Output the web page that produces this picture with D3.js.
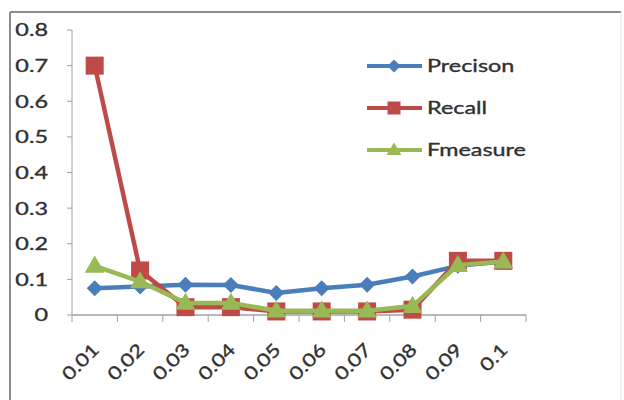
<!DOCTYPE html>
<html>
<head>
<meta charset="utf-8">
<script src="https://cdn.jsdelivr.net/npm/d3@7"></script>
<style>
  html, body { margin: 0; padding: 0; background: #fff; }
  svg { display: block; }
  text { font-family: Lato, "Open Sans", sans-serif; fill: #303030; stroke: #303030; stroke-width: 0.35; }
</style>
</head>
<body>
<svg id="chart" width="624" height="400"></svg>
<script>
// Threshold values on the x axis
const categories = ["0.01", "0.02", "0.03", "0.04", "0.05", "0.06", "0.07", "0.08", "0.09", "0.1"];
// Series values
const precision = [0.075, 0.080, 0.085, 0.084, 0.062, 0.075, 0.085, 0.108, 0.138, 0.150];
const recall    = [0.700, 0.125, 0.022, 0.022, 0.010, 0.010, 0.010, 0.015, 0.152, 0.152];
const fmeasure  = [0.138, 0.094, 0.034, 0.034, 0.012, 0.012, 0.012, 0.025, 0.140, 0.150];
const yTicks = [0, 0.1, 0.2, 0.3, 0.4, 0.5, 0.6, 0.7, 0.8];
const seriesNames = ["Precison", "Recall", "Fmeasure"];

const series = [
  { name: seriesNames[0], values: precision, color: "#4a7ebb", shape: "diamond" },
  { name: seriesNames[1], values: recall,    color: "#be4b48", shape: "square" },
  { name: seriesNames[2], values: fmeasure,  color: "#98b954", shape: "triangle" }
];

const svg = d3.select("#chart");

// Chart frame
const frame = svg.append("g");
frame.append("line").attr("x1", 10).attr("y1", 12).attr("x2", 621).attr("y2", 12)
  .attr("stroke", "#8c8c8c").attr("stroke-width", 2);
frame.append("line").attr("x1", 10).attr("y1", 12).attr("x2", 10).attr("y2", 400)
  .attr("stroke", "#8c8c8c").attr("stroke-width", 2);
frame.append("line").attr("x1", 621).attr("y1", 12).attr("x2", 621).attr("y2", 400)
  .attr("stroke", "#e2e2e2").attr("stroke-width", 1);

const x = d3.scaleBand().domain(categories).range([72, 526]).padding(0);
const y = d3.scaleLinear().domain([0, 0.8]).range([315, 30]);
const cx = d => x(d) + x.bandwidth() / 2;

const axisColor = "#a0a0a0";

// Y axis
const yAxis = svg.append("g");
yAxis.append("line")
  .attr("x1", x.range()[0]).attr("x2", x.range()[0])
  .attr("y1", y(0)).attr("y2", y(0.8))
  .attr("stroke", axisColor).attr("stroke-width", 1);
yAxis.selectAll("line.tick").data(yTicks).join("line")
  .attr("class", "tick")
  .attr("x1", x.range()[0] - 5).attr("x2", x.range()[0])
  .attr("y1", d => y(d)).attr("y2", d => y(d))
  .attr("stroke", axisColor);
yAxis.selectAll("text").data(yTicks).join("text")
  .attr("transform", d => `translate(48,${y(d)}) scale(1.3,1)`)
  .attr("text-anchor", "end")
  .attr("dy", "0.36em")
  .attr("font-size", 18)
  .text(d => d === 0 ? "0" : d3.format(".1f")(d));

// X axis
const xAxis = svg.append("g");
xAxis.append("line")
  .attr("x1", x.range()[0]).attr("x2", x.range()[1])
  .attr("y1", y(0)).attr("y2", y(0))
  .attr("stroke", axisColor).attr("stroke-width", 1.5);
const boundaries = categories.map(c => x(c)).concat([x.range()[1]]);
xAxis.selectAll("line.tick").data(boundaries).join("line")
  .attr("class", "tick")
  .attr("x1", d => d).attr("x2", d => d)
  .attr("y1", y(0)).attr("y2", y(0) + 7)
  .attr("stroke", axisColor);
xAxis.selectAll("text").data(categories).join("text")
  .attr("transform", d => `translate(${cx(d) + 5.5},351) rotate(-45) scale(1.22,1)`)
  .attr("text-anchor", "end")
  .attr("font-size", 18)
  .text(d => d);

// Marker symbols
function marker(sel, shape, color, s) {
  if (shape === "diamond") {
    sel.append("path").attr("d", `M0,${-s}L${s},0L0,${s}L${-s},0Z`).attr("fill", color);
  } else if (shape === "square") {
    sel.append("rect").attr("x", -s).attr("y", -s).attr("width", 2 * s).attr("height", 2 * s)
      .attr("fill", color);
  } else {
    const h = s * 1.8;
    sel.append("path").attr("d", `M0,${-h * 0.6}L${s * 1.05},${h * 0.4}L${-s * 1.05},${h * 0.4}Z`)
      .attr("fill", color);
  }
}

const line = d3.line().x((d, i) => cx(categories[i])).y(d => y(d));
const markerSize = { diamond: 8, square: 9, triangle: 9.5 };

series.forEach(s => {
  const g = svg.append("g");
  g.append("path").datum(s.values)
    .attr("d", line)
    .attr("fill", "none")
    .attr("stroke", s.color)
    .attr("stroke-width", 4.5)
    .attr("stroke-linejoin", "round");
  g.selectAll("g.pt").data(s.values).join("g")
    .attr("class", "pt")
    .attr("transform", (d, i) => `translate(${cx(categories[i])},${y(d)})`)
    .each(function () { marker(d3.select(this), s.shape, s.color, markerSize[s.shape]); });
});

// Legend
const legend = svg.append("g");
const legendSize = { diamond: 6.5, square: 6.5, triangle: 7 };
series.forEach((s, i) => {
  const ly = 66 + i * 42;
  const g = legend.append("g");
  g.append("line").attr("x1", 367).attr("x2", 422).attr("y1", ly).attr("y2", ly)
    .attr("stroke", s.color).attr("stroke-width", 4);
  const m = g.append("g").attr("transform", `translate(394,${ly})`);
  marker(m, s.shape, s.color, legendSize[s.shape]);
  g.append("text")
    .attr("transform", `translate(427,${ly}) scale(1.3,1)`)
    .attr("dy", "0.36em")
    .attr("font-size", 18)
    .text(s.name);
});
</script>
</body>
</html>
